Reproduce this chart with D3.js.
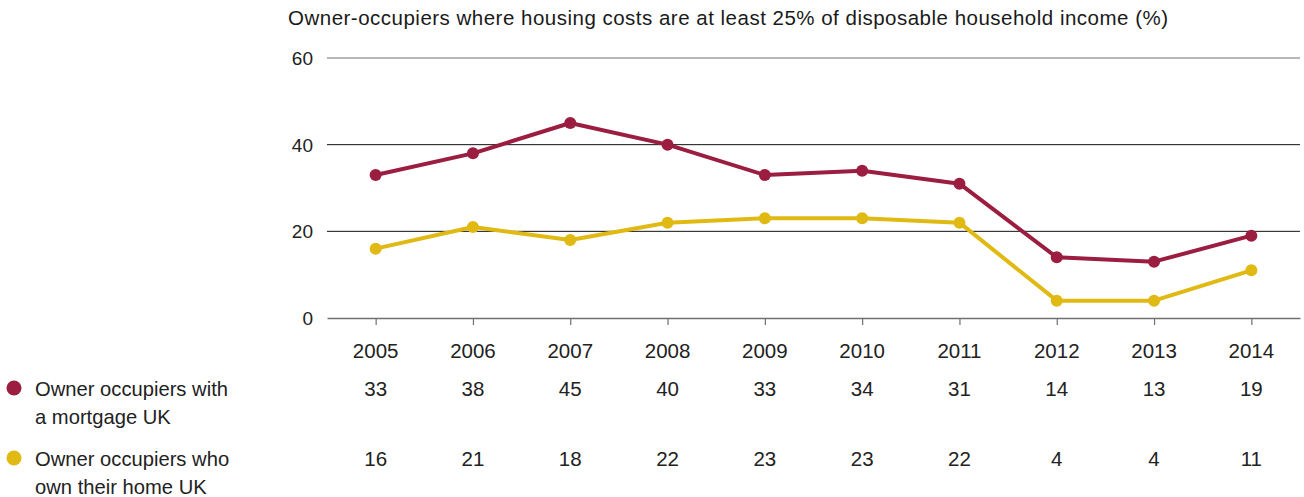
<!DOCTYPE html>
<html>
<head>
<meta charset="utf-8">
<script src="https://cdn.jsdelivr.net/npm/d3@7"></script>
<style>
  html, body { margin: 0; padding: 0; background: #fff; }
  svg { display: block; font-family: "Liberation Sans", Arial, sans-serif; }
</style>
</head>
<body>
<svg id="chart" width="1304" height="497"></svg>
<script>
// Share of owner-occupiers whose housing costs are at least 25% of disposable income
const years = ["2005", "2006", "2007", "2008", "2009", "2010", "2011", "2012", "2013", "2014"];
const mortgageValues = [33, 38, 45, 40, 33, 34, 31, 14, 13, 19];
const outrightValues = [16, 21, 18, 22, 23, 23, 22, 4, 4, 11];
const yTicks = [0, 20, 40, 60];
const seriesNames = [
  ["Owner occupiers with", "a mortgage UK"],
  ["Owner occupiers who", "own their home UK"]
];
const titleText = "Owner-occupiers where housing costs are at least 25% of disposable household income (%)";

const colors = ["#9b1e40", "#e1b913"];
const series = [mortgageValues, outrightValues];

const svg = d3.select("#chart");
const plot = { left: 327, right: 1300, top: 58, bottom: 318 };

const x = d3.scalePoint().domain(years).range([plot.left, plot.right]).padding(0.5);
const y = d3.scaleLinear().domain([0, 60]).range([plot.bottom, plot.top]);

// Title
svg.append("text")
  .attr("x", 288).attr("y", 25)
  .attr("font-size", 20.5).attr("fill", "#1a1a1a")
  .attr("textLength", 880).attr("lengthAdjust", "spacing")
  .text(titleText);

// Horizontal gridlines with value labels
const grid = svg.append("g");
grid.selectAll("line")
  .data(yTicks.filter(t => t > 0))
  .join("line")
  .attr("x1", plot.left).attr("x2", plot.right)
  .attr("y1", d => y(d)).attr("y2", d => y(d))
  .attr("stroke", d => d === 60 ? "#6f6f6f" : "#111")
  .attr("stroke-width", 1);

grid.selectAll("text")
  .data(yTicks)
  .join("text")
  .attr("x", 313).attr("y", d => y(d))
  .attr("dy", "0.36em")
  .attr("text-anchor", "end")
  .attr("font-size", 19).attr("fill", "#222")
  .text(d => d);

// Bottom axis with small downward ticks
const xAxis = svg.append("g").attr("transform", `translate(0,${plot.bottom})`)
  .call(d3.axisBottom(x).tickSize(7).tickSizeOuter(0).tickFormat(""));
xAxis.select(".domain").attr("stroke", "#707070").attr("stroke-width", 1.6);
xAxis.selectAll(".tick line").attr("stroke", "#707070").attr("stroke-width", 1.2);

// Year labels
svg.append("g").selectAll("text")
  .data(years)
  .join("text")
  .attr("x", d => x(d)).attr("y", 358)
  .attr("text-anchor", "middle")
  .attr("font-size", 20.5).attr("fill", "#222")
  .text(d => d);

// Lines and points
const line = d3.line().x((d, i) => x(years[i])).y(d => y(d));
series.forEach((vals, s) => {
  svg.append("path")
    .datum(vals)
    .attr("d", line)
    .attr("fill", "none")
    .attr("stroke", colors[s])
    .attr("stroke-width", 4)
    .attr("stroke-linejoin", "round");
  svg.append("g").selectAll("circle")
    .data(vals)
    .join("circle")
    .attr("cx", (d, i) => x(years[i]))
    .attr("cy", d => y(d))
    .attr("r", 6)
    .attr("fill", colors[s]);
});

// Legend rows with values table
const rowY = [396, 466];
series.forEach((vals, s) => {
  const g = svg.append("g");
  g.append("circle")
    .attr("cx", 14).attr("cy", rowY[s] - 8)
    .attr("r", 7.5).attr("fill", colors[s]);
  g.append("text")
    .attr("x", 35).attr("y", rowY[s])
    .attr("font-size", 20.2).attr("fill", "#222")
    .selectAll("tspan")
    .data(seriesNames[s])
    .join("tspan")
    .attr("x", 35)
    .attr("dy", (d, i) => i === 0 ? 0 : 28)
    .text(d => d);
  g.selectAll("text.val")
    .data(vals)
    .join("text")
    .attr("class", "val")
    .attr("x", (d, i) => x(years[i])).attr("y", rowY[s])
    .attr("text-anchor", "middle")
    .attr("font-size", 20.5).attr("fill", "#222")
    .text(d => d);
});
</script>
</body>
</html>
